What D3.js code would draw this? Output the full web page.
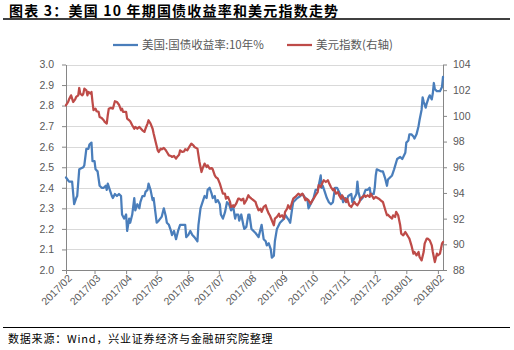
<!DOCTYPE html>
<html>
<head>
<meta charset="utf-8">
<script src="https://cdn.jsdelivr.net/npm/d3@7"></script>
<style>
  body { margin: 0; background: #fff; }
  svg { display: block; }
</style>
</head>
<body>
<svg id="chart" width="514" height="350"></svg>
<script>
// ---- data ----
const titleText = "图表 3：美国 10 年期国债收益率和美元指数走势";
const sourceText = "数据来源：Wind，兴业证券经济与金融研究院整理";
const seriesNames = ["美国:国债收益率:10年%", "美元指数(右轴)"];
const leftTicks = [2.0, 2.1, 2.2, 2.3, 2.4, 2.5, 2.6, 2.7, 2.8, 2.9, 3.0];
const rightTicks = [88, 90, 92, 94, 96, 98, 100, 102, 104];
const monthTicks = ["2017-02-01","2017-03-01","2017-04-01","2017-05-01","2017-06-01","2017-07-01",
  "2017-08-01","2017-09-01","2017-10-01","2017-11-01","2017-12-01","2018-01-01","2018-02-01"];

// US 10Y treasury yield, %
const yieldSeries = [
["2017-02-01",2.45],["2017-02-04",2.43],["2017-02-07",2.43],["2017-02-09",2.32],["2017-02-11",2.35],["2017-02-12",2.36],
["2017-02-14",2.49],["2017-02-18",2.50],["2017-02-19",2.51],["2017-02-21",2.59],["2017-02-23",2.59],["2017-02-24",2.61],
["2017-02-26",2.62],["2017-02-27",2.53],["2017-03-01",2.53],["2017-03-02",2.49],["2017-03-04",2.48],["2017-03-06",2.41],
["2017-03-08",2.40],["2017-03-10",2.40],["2017-03-12",2.41],["2017-03-13",2.39],["2017-03-14",2.42],["2017-03-16",2.39],
["2017-03-18",2.36],["2017-03-19",2.35],["2017-03-21",2.37],["2017-03-23",2.36],["2017-03-25",2.37],["2017-03-27",2.36],
["2017-03-28",2.27],["2017-03-30",2.25],["2017-04-01",2.27],["2017-04-02",2.19],["2017-04-04",2.25],["2017-04-05",2.23],
["2017-04-07",2.27],["2017-04-09",2.35],["2017-04-10",2.29],["2017-04-12",2.32],["2017-04-14",2.30],["2017-04-15",2.33],
["2017-04-17",2.36],["2017-04-19",2.36],["2017-04-20",2.38],["2017-04-22",2.39],["2017-04-23",2.42],["2017-04-25",2.39],
["2017-04-27",2.34],["2017-04-28",2.35],["2017-05-01",2.23],["2017-05-03",2.24],["2017-05-06",2.26],["2017-05-08",2.30],
["2017-05-10",2.26],["2017-05-11",2.23],["2017-05-13",2.22],["2017-05-15",2.19],["2017-05-16",2.17],["2017-05-18",2.19],
["2017-05-20",2.15],["2017-05-22",2.19],["2017-05-24",2.22],["2017-05-27",2.22],["2017-05-29",2.22],["2017-05-30",2.16],
["2017-06-01",2.17],["2017-06-03",2.19],["2017-06-05",2.17],["2017-06-07",2.16],["2017-06-10",2.14],["2017-06-11",2.22],
["2017-06-13",2.30],["2017-06-15",2.33],["2017-06-17",2.36],["2017-06-19",2.35],["2017-06-20",2.39],["2017-06-22",2.40],
["2017-06-24",2.37],["2017-06-25",2.35],["2017-06-27",2.36],["2017-06-28",2.33],["2017-06-30",2.34],["2017-07-02",2.32],
["2017-07-03",2.27],["2017-07-05",2.25],["2017-07-07",2.28],["2017-07-09",2.33],["2017-07-11",2.32],["2017-07-13",2.29],
["2017-07-15",2.31],["2017-07-17",2.25],["2017-07-18",2.27],["2017-07-20",2.27],["2017-07-21",2.24],["2017-07-23",2.27],
["2017-07-25",2.22],["2017-07-26",2.20],["2017-07-28",2.21],["2017-07-30",2.27],["2017-07-31",2.27],["2017-08-02",2.20],
["2017-08-06",2.18],["2017-08-09",2.16],["2017-08-12",2.22],["2017-08-14",2.15],["2017-08-16",2.14],["2017-08-17",2.12],
["2017-08-19",2.13],["2017-08-21",2.10],["2017-08-22",2.06],["2017-08-24",2.07],["2017-08-25",2.14],["2017-08-27",2.20],
["2017-08-30",2.23],["2017-09-03",2.25],["2017-09-04",2.27],["2017-09-08",2.24],["2017-09-09",2.23],["2017-09-11",2.30],
["2017-09-12",2.33],["2017-09-16",2.35],["2017-09-19",2.36],["2017-09-21",2.37],["2017-09-24",2.35],["2017-09-26",2.34],
["2017-09-27",2.30],["2017-09-30",2.33],["2017-10-02",2.35],["2017-10-04",2.39],["2017-10-06",2.39],["2017-10-07",2.41],
["2017-10-09",2.46],["2017-10-10",2.40],["2017-10-11",2.41],["2017-10-13",2.38],["2017-10-15",2.35],["2017-10-17",2.33],
["2017-10-19",2.32],["2017-10-21",2.33],["2017-10-23",2.40],["2017-10-25",2.40],["2017-10-27",2.38],["2017-10-30",2.35],
["2017-10-31",2.33],["2017-11-02",2.35],["2017-11-03",2.33],["2017-11-05",2.36],["2017-11-08",2.37],["2017-11-09",2.33],
["2017-11-11",2.35],["2017-11-13",2.37],["2017-11-14",2.43],["2017-11-15",2.38],["2017-11-17",2.34],["2017-11-19",2.35],
["2017-11-22",2.39],["2017-11-24",2.39],["2017-11-26",2.40],["2017-11-27",2.37],["2017-11-30",2.37],["2017-12-01",2.40],
["2017-12-02",2.46],["2017-12-03",2.49],["2017-12-07",2.48],["2017-12-09",2.48],["2017-12-11",2.45],["2017-12-13",2.41],
["2017-12-14",2.44],["2017-12-16",2.45],["2017-12-18",2.46],["2017-12-20",2.49],["2017-12-23",2.54],["2017-12-26",2.55],
["2017-12-28",2.54],["2017-12-29",2.55],["2017-12-31",2.57],["2018-01-01",2.62],["2018-01-03",2.63],["2018-01-04",2.66],
["2018-01-06",2.66],["2018-01-08",2.65],["2018-01-09",2.64],["2018-01-11",2.66],["2018-01-13",2.70],["2018-01-14",2.73],
["2018-01-16",2.78],["2018-01-17",2.84],["2018-01-18",2.82],["2018-01-20",2.79],["2018-01-21",2.81],["2018-01-23",2.84],
["2018-01-24",2.85],["2018-01-26",2.83],["2018-01-27",2.86],["2018-01-28",2.91],["2018-01-29",2.88],["2018-01-31",2.87],
["2018-02-02",2.87],["2018-02-03",2.87],["2018-02-05",2.89],["2018-02-06",2.94]
];

// US dollar index (right axis)
const dollarSeries = [
["2017-02-01",100.83],["2017-02-02",100.95],["2017-02-03",101.08],["2017-02-04",101.29],["2017-02-06",101.60],["2017-02-07",101.34],
["2017-02-08",101.08],["2017-02-10",101.29],["2017-02-11",101.47],["2017-02-13",101.60],["2017-02-14",102.17],["2017-02-15",101.73],
["2017-02-17",101.60],["2017-02-18",101.73],["2017-02-19",102.12],["2017-02-21",101.99],["2017-02-22",101.60],["2017-02-23",101.86],
["2017-02-25",101.73],["2017-02-26",101.86],["2017-02-27",101.08],["2017-02-28",100.44],["2017-03-02",100.56],["2017-03-03",100.36],
["2017-03-05",100.31],["2017-03-06",99.92],["2017-03-08",99.84],["2017-03-10",99.66],["2017-03-11",99.53],["2017-03-13",99.40],
["2017-03-14",100.05],["2017-03-15",100.56],["2017-03-17",100.62],["2017-03-19",100.56],["2017-03-21",101.14],["2017-03-23",101.08],
["2017-03-25",100.87],["2017-03-27",100.44],["2017-03-28",100.56],["2017-03-29",100.31],["2017-04-01",100.31],["2017-04-02",99.78],
["2017-04-04",99.66],["2017-04-05",99.58],["2017-04-07",99.27],["2017-04-09",99.00],["2017-04-10",99.14],["2017-04-12",99.00],
["2017-04-14",99.14],["2017-04-17",98.88],["2017-04-19",98.75],["2017-04-20",99.00],["2017-04-22",99.40],["2017-04-23",99.66],
["2017-04-25",99.40],["2017-04-27",99.00],["2017-04-28",98.62],["2017-04-30",97.97],["2017-05-02",97.32],["2017-05-03",97.19],
["2017-05-05",97.45],["2017-05-06",97.40],["2017-05-08",97.50],["2017-05-10",97.32],["2017-05-11",97.19],["2017-05-13",96.93],
["2017-05-15",96.88],["2017-05-16",96.80],["2017-05-18",96.88],["2017-05-20",96.67],["2017-05-21",96.80],["2017-05-23",96.98],
["2017-05-24",97.32],["2017-05-26",97.19],["2017-05-28",97.24],["2017-05-29",97.40],["2017-05-31",97.32],["2017-06-02",97.58],
["2017-06-04",97.84],["2017-06-06",97.71],["2017-06-07",97.58],["2017-06-10",97.45],["2017-06-12",96.41],["2017-06-14",95.63],
["2017-06-15",95.89],["2017-06-17",96.28],["2017-06-19",96.02],["2017-06-20",96.15],["2017-06-22",95.89],["2017-06-24",95.94],
["2017-06-25",95.84],["2017-06-27",95.37],["2017-06-28",95.24],["2017-06-30",95.11],["2017-07-02",94.72],["2017-07-03",94.46],
["2017-07-05",93.94],["2017-07-07",93.94],["2017-07-08",93.55],["2017-07-10",93.69],["2017-07-12",93.30],["2017-07-13",92.91],
["2017-07-15",93.04],["2017-07-16",92.91],["2017-07-18",93.16],["2017-07-20",93.55],["2017-07-21",93.55],["2017-07-23",93.43],
["2017-07-25",93.55],["2017-07-26",93.16],["2017-07-28",93.43],["2017-07-30",93.82],["2017-07-31",93.69],["2017-08-02",93.55],
["2017-08-06",93.30],["2017-08-07",93.04],["2017-08-09",92.65],["2017-08-11",92.77],["2017-08-12",92.52],["2017-08-14",92.91],
["2017-08-16",93.04],["2017-08-17",92.77],["2017-08-19",92.38],["2017-08-20",92.26],["2017-08-22",91.87],["2017-08-24",91.48],
["2017-08-25",92.00],["2017-08-27",92.13],["2017-08-29",92.38],["2017-08-30",92.13],["2017-09-01",92.26],["2017-09-03",92.00],
["2017-09-04",92.52],["2017-09-06",92.77],["2017-09-07",93.04],["2017-09-09",92.77],["2017-09-11",93.30],["2017-09-12",93.55],
["2017-09-14",93.69],["2017-09-17",93.94],["2017-09-19",93.82],["2017-09-21",93.94],["2017-09-22",93.82],["2017-09-24",93.43],
["2017-09-25",93.55],["2017-09-27",93.43],["2017-09-29",93.16],["2017-09-30",93.30],["2017-10-02",93.55],["2017-10-04",93.82],
["2017-10-06",94.07],["2017-10-07",94.60],["2017-10-09",94.46],["2017-10-11",94.85],["2017-10-12",94.99],["2017-10-14",94.85],
["2017-10-16",94.99],["2017-10-17",94.80],["2017-10-19",94.46],["2017-10-21",94.21],["2017-10-22",94.33],["2017-10-24",93.94],
["2017-10-26",94.07],["2017-10-27",93.82],["2017-10-29",93.55],["2017-10-30",93.82],["2017-11-01",93.55],["2017-11-03",93.30],
["2017-11-04",93.55],["2017-11-06",93.04],["2017-11-08",92.91],["2017-11-09",93.04],["2017-11-11",93.30],["2017-11-12",93.16],
["2017-11-14",93.04],["2017-11-16",93.30],["2017-11-17",93.55],["2017-11-19",93.69],["2017-11-21",93.82],["2017-11-22",93.69],
["2017-11-24",93.82],["2017-11-26",93.69],["2017-11-27",93.94],["2017-11-29",93.69],["2017-11-30",93.55],["2017-12-02",93.69],
["2017-12-05",93.55],["2017-12-08",93.35],["2017-12-09",93.30],["2017-12-11",92.77],["2017-12-13",92.26],["2017-12-14",92.31],
["2017-12-16",92.13],["2017-12-18",92.00],["2017-12-19",92.26],["2017-12-21",92.13],["2017-12-22",92.52],["2017-12-24",92.26],
["2017-12-26",91.48],["2017-12-27",90.83],["2017-12-29",90.70],["2017-12-31",90.96],["2018-01-01",90.83],["2018-01-03",90.57],
["2018-01-04",90.44],["2018-01-06",89.92],["2018-01-08",89.27],["2018-01-09",89.40],["2018-01-11",89.14],["2018-01-13",89.40],
["2018-01-14",89.01],["2018-01-16",88.75],["2018-01-18",89.40],["2018-01-19",90.05],["2018-01-21",90.44],["2018-01-22",90.44],
["2018-01-24",90.31],["2018-01-26",89.92],["2018-01-27",89.40],["2018-01-29",88.62],["2018-01-31",89.27],["2018-02-01",89.14],
["2018-02-03",89.27],["2018-02-05",90.05],["2018-02-06",90.18]
];

// ---- layout ----
const BLUE = "#4a7ebb", RED = "#be4b48";
const AXIS = "#868686", GRID = "#d9d9d9", LABEL = "#595959";
const CJK = "'Noto Sans CJK SC', 'Noto Sans', sans-serif";
const NUM = "'Liberation Sans', Arial, sans-serif";
const plot = { left: 66, right: 443, top: 64.5, bottom: 270 };

const parse = d3.timeParse("%Y-%m-%d");
const yieldData = yieldSeries.map(([d, v]) => ({ date: parse(d), value: v }));
const dollarData = dollarSeries.map(([d, v]) => ({ date: parse(d), value: v }));

const svg = d3.select("#chart");

const x = d3.scaleTime()
  .domain(d3.extent(yieldData, d => d.date))
  .range([plot.left, plot.right]);
const yL = d3.scaleLinear().domain([leftTicks[0], leftTicks[leftTicks.length - 1]])
  .range([plot.bottom, plot.top]);
const yR = d3.scaleLinear().domain([rightTicks[0], rightTicks[rightTicks.length - 1]])
  .range([plot.bottom, plot.top]);

// title and rule
svg.append("text").attr("x", 9).attr("y", 15.5)
  .attr("font-family", CJK).attr("font-size", 14).attr("font-weight", "bold")
  .attr("letter-spacing", 1.2)
  .attr("fill", "#000").text(titleText);
svg.append("line").attr("x1", 3).attr("x2", 510).attr("y1", 19).attr("y2", 19)
  .attr("stroke", "#000").attr("stroke-width", 1.3);

// horizontal gridlines
svg.append("g").selectAll("line").data(leftTicks).join("line")
  .attr("x1", plot.left).attr("x2", plot.right)
  .attr("y1", d => Math.round(yL(d)) + 0.5).attr("y2", d => Math.round(yL(d)) + 0.5)
  .attr("stroke", GRID).attr("stroke-width", 1);

function styleAxis(g) {
  g.select(".domain").attr("stroke", AXIS);
  g.selectAll(".tick line").attr("stroke", AXIS);
  g.selectAll(".tick text").attr("fill", LABEL).attr("font-family", NUM).attr("font-size", 10.5);
}

// left axis
svg.append("g").attr("transform", `translate(${plot.left},0)`)
  .call(d3.axisLeft(yL).tickValues(leftTicks).tickFormat(d3.format(".1f"))
    .tickSize(4).tickSizeOuter(0).tickPadding(8))
  .call(styleAxis);

// right axis
svg.append("g").attr("transform", `translate(${plot.right},0)`)
  .call(d3.axisRight(yR).tickValues(rightTicks).tickSize(4).tickSizeOuter(0).tickPadding(6))
  .call(styleAxis);

// bottom axis with monthly ticks, labels slanted
const xg = svg.append("g").attr("transform", `translate(0,${plot.bottom})`)
  .call(d3.axisBottom(x).tickValues(monthTicks.map(parse))
    .tickFormat(d3.timeFormat("%Y/%m")).tickSize(4).tickSizeOuter(0))
  .call(styleAxis);
xg.selectAll(".tick text")
  .attr("text-anchor", "end")
  .attr("x", -2).attr("y", 7).attr("dy", "0.35em")
  .attr("transform", "rotate(-45)")
  .attr("font-size", 10.5);

// series lines
const lineL = d3.line().x(d => x(d.date)).y(d => yL(d.value));
const lineR = d3.line().x(d => x(d.date)).y(d => yR(d.value));
svg.append("path").datum(yieldData).attr("d", lineL)
  .attr("fill", "none").attr("stroke", BLUE).attr("stroke-width", 2.25)
  .attr("stroke-linejoin", "round").attr("stroke-linecap", "round");
svg.append("path").datum(dollarData).attr("d", lineR)
  .attr("fill", "none").attr("stroke", RED).attr("stroke-width", 2.25)
  .attr("stroke-linejoin", "round").attr("stroke-linecap", "round");

// legend
const legendItems = [
  { name: seriesNames[0], color: BLUE, x: 113 },
  { name: seriesNames[1], color: RED, x: 287 }
];
const lg = svg.append("g").selectAll("g").data(legendItems).join("g")
  .attr("transform", d => `translate(${d.x},45)`);
lg.append("line").attr("x1", 0).attr("x2", 25).attr("y1", 0).attr("y2", 0)
  .attr("stroke", d => d.color).attr("stroke-width", 2.25);
lg.append("text").attr("x", 29).attr("y", 0).attr("dy", "0.35em")
  .attr("font-family", CJK).attr("font-size", 11.5).attr("fill", LABEL)
  .text(d => d.name);

// source note
svg.append("line").attr("x1", 3).attr("x2", 510).attr("y1", 327.5).attr("y2", 327.5)
  .attr("stroke", "#000").attr("stroke-width", 1);
svg.append("text").attr("x", 8).attr("y", 343)
  .attr("font-family", CJK).attr("font-size", 11).attr("letter-spacing", 0.8)
  .attr("fill", "#000").text(sourceText);
</script>
</body>
</html>
